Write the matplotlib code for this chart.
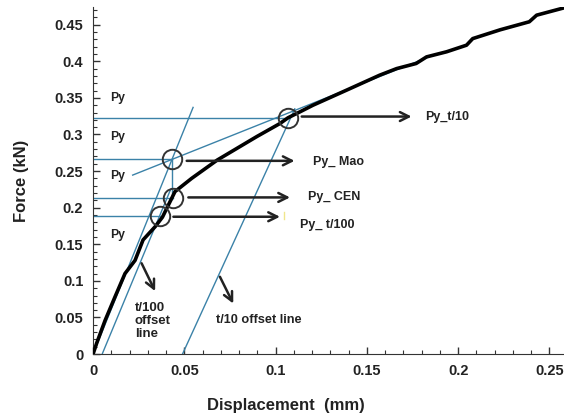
import matplotlib
matplotlib.use("Agg")
import matplotlib.pyplot as plt
from matplotlib.ticker import MultipleLocator, FuncFormatter

plt.rcParams['font.family'] = ['Liberation Sans', 'DejaVu Sans']

# Force-displacement curve
disp = [0, 0.002, 0.0066, 0.012, 0.0175, 0.023, 0.0274, 0.034, 0.038, 0.0449, 0.054,
        0.068, 0.0896, 0.1024, 0.1068, 0.1134, 0.1205, 0.139, 0.157, 0.1663, 0.177,
        0.1827, 0.1937, 0.2046, 0.208, 0.223, 0.239, 0.243, 0.258]
force = [0, 0.015, 0.046, 0.078, 0.110, 0.128, 0.156, 0.174, 0.187, 0.222, 0.240,
         0.265, 0.297, 0.315, 0.3228, 0.331, 0.340, 0.3607, 0.381, 0.390, 0.397,
         0.406, 0.413, 0.422, 0.431, 0.443, 0.454, 0.463, 0.473]

# Construction lines (x pairs, y pairs)
elastic_x = [0.0, 0.0548]; elastic_y = [0.0, 0.337]
t100_x = [0.005, 0.0425]; t100_y = [0.0, 0.225]
t10_x = [0.049, 0.1105]; t10_y = [0.0, 0.335]
tangent_x = [0.0217, 0.184]; tangent_y = [0.2445, 0.406]
mao_vert_x = [0.0433, 0.0433]; mao_vert_y = [0.266, 0.212]

# Yield points
py_names = ['Py_t/10', 'Py_ Mao', 'Py_ CEN', 'Py_ t/100']
py_x = [0.1068, 0.0433, 0.0438, 0.0367]
py_y = [0.3228, 0.266, 0.213, 0.1885]
arrow_start = [0.1143, 0.0513, 0.0522, 0.0440]
arrow_end = [0.1745, 0.1104, 0.1079, 0.1024]
arrow_y = [0.3245, 0.264, 0.214, 0.1876]
label_x = [0.1818, 0.1205, 0.1178, 0.1134]
label_y = [0.3245, 0.263, 0.215, 0.176]

# "Py" side labels
side_y = [0.35, 0.296, 0.243, 0.1625]

blue = '#3b82a8'

fig = plt.figure(figsize=(5.64, 4.19), dpi=100)
ax = fig.add_axes([0.165, 0.155, 0.835, 0.828])

ax.plot(elastic_x, elastic_y, color=blue, lw=1.0)
ax.plot(t100_x, t100_y, color=blue, lw=1.0)
ax.plot(t10_x, t10_y, color=blue, lw=1.0)
ax.plot(tangent_x, tangent_y, color=blue, lw=1.0)
ax.plot(mao_vert_x, mao_vert_y, color=blue, lw=1.0)
for x, y in zip(py_x, py_y):
    ax.plot([0, x], [y, y], color=blue, lw=1.0)

ax.plot(disp, force, color='black', lw=2.6, solid_capstyle='round', zorder=3)

ax.plot(py_x, py_y, 'o', ms=14, mfc='none', mec='#333333', mew=1.4, zorder=4)

for xs, xe, y in zip(arrow_start, arrow_end, arrow_y):
    ax.annotate('', xy=(xe, y), xytext=(xs, y),
                arrowprops=dict(arrowstyle='->', color='#222222', lw=1.8,
                                mutation_scale=16, shrinkA=0, shrinkB=0))
for name, x, y in zip(py_names, label_x, label_y):
    ax.text(x, y, name, fontsize=9, fontweight='bold', va='center', ha='left', color='#222222')

# small yellowish mark near Py_t/100 arrow
ax.plot([0.1045, 0.1045], [0.184, 0.194], color='#f0e68c', lw=1.0)

for y in side_y:
    ax.text(0.0095, y, 'Py', fontsize=8.8, fontweight='bold', va='center', ha='left', color='#222222')

# offset line labels and arrows
ax.annotate('', xy=(0.034, 0.086), xytext=(0.0266, 0.124),
            arrowprops=dict(arrowstyle='->', color='#222222', lw=1.8,
                            mutation_scale=16, shrinkA=0, shrinkB=0))
ax.annotate('', xy=(0.0768, 0.069), xytext=(0.0695, 0.1056),
            arrowprops=dict(arrowstyle='->', color='#222222', lw=1.8,
                            mutation_scale=16, shrinkA=0, shrinkB=0))
ax.text(0.0228, 0.045, 't/100\noffset\nline', fontsize=9.5, fontweight='bold',
        va='center', ha='left', color='#222222', linespacing=1.12)
ax.text(0.0672, 0.0464, 't/10 offset line', fontsize=9.2, fontweight='bold',
        va='center', ha='left', color='#222222')

ax.set_xlim(0, 0.258)
ax.set_ylim(0, 0.474)
ax.xaxis.set_major_locator(MultipleLocator(0.05))
ax.xaxis.set_minor_locator(MultipleLocator(0.01))
ax.yaxis.set_major_locator(MultipleLocator(0.05))
ax.yaxis.set_minor_locator(MultipleLocator(0.01))
fmt = FuncFormatter(lambda v, p: '0' if abs(v) < 1e-9 else ('%.2f' % v).rstrip('0'))
ax.xaxis.set_major_formatter(fmt)
ax.yaxis.set_major_formatter(fmt)
ax.tick_params(which='major', direction='in', length=5, width=1, labelsize=10.5, colors='#333333',
               labelcolor='#222222', pad=7)
ax.tick_params(which='minor', direction='in', length=3, width=0.8, colors='#333333')
for lab in ax.get_xticklabels() + ax.get_yticklabels():
    lab.set_fontweight('bold')
ax.spines['top'].set_visible(False)
ax.spines['right'].set_visible(False)
ax.spines['left'].set_color('#333333')
ax.spines['bottom'].set_color('#333333')

ax.set_xlabel('Displacement  (mm)', fontsize=12, fontweight='bold', color='#222222')
ax.set_ylabel('Force (kN)', fontsize=12, fontweight='bold', color='#222222')
ax.xaxis.set_label_coords(0.41, -0.148)
ax.yaxis.set_label_coords(-0.152, 0.50)
ax.xaxis.label.set_va('center')
ax.yaxis.label.set_va('center')

fig.savefig('out.png', dpi=100)
